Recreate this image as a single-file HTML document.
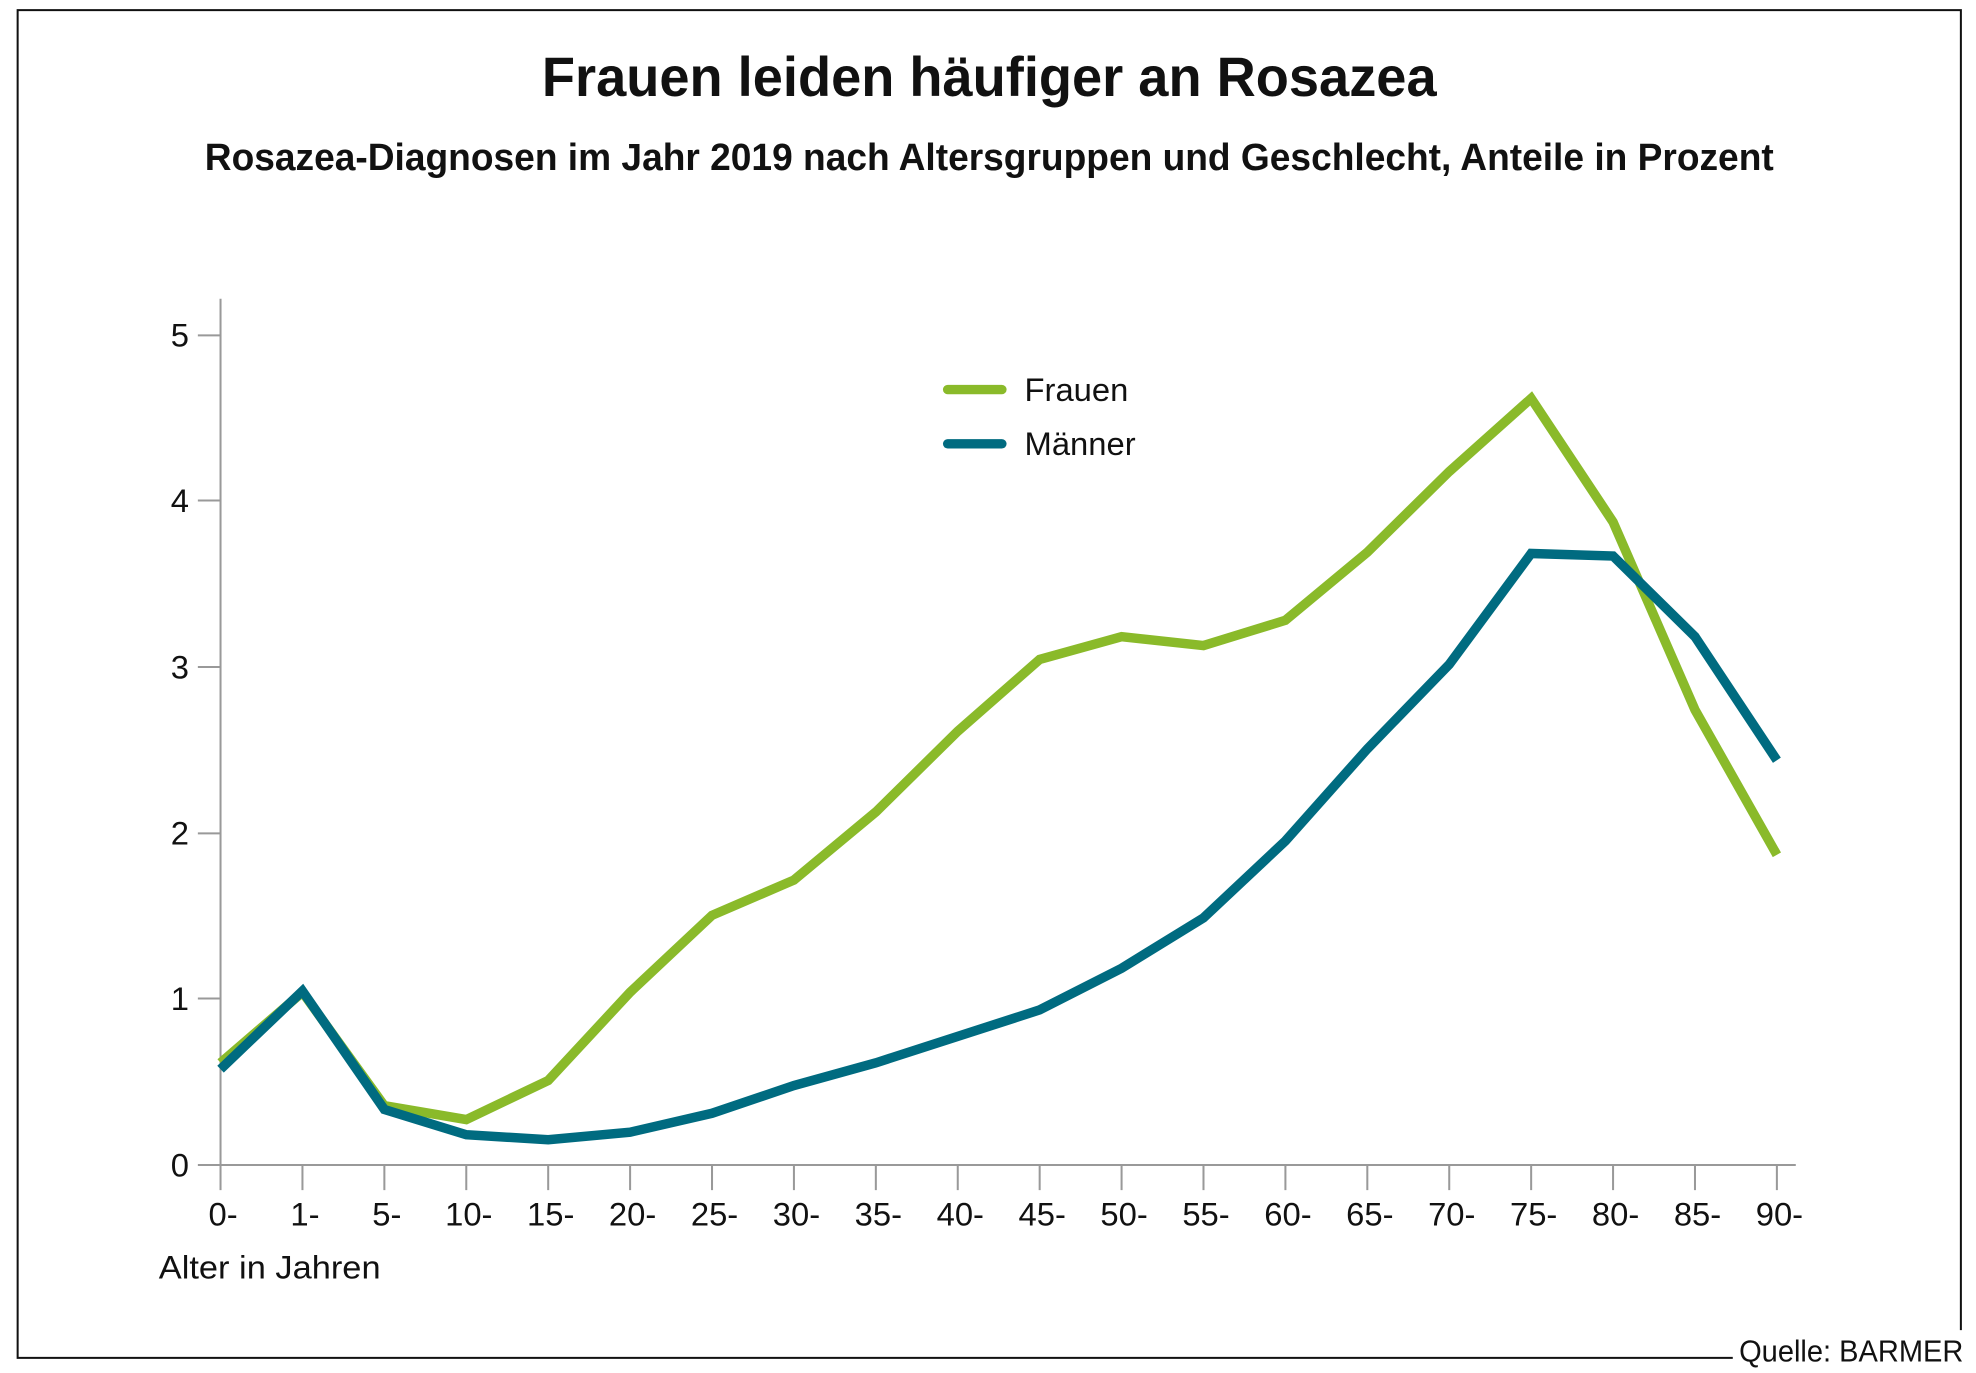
<!DOCTYPE html>
<html><head><meta charset="utf-8"><style>html,body{margin:0;padding:0;background:#fff}svg{display:block}</style></head>
<body>
<svg width="1976" height="1373" viewBox="0 0 1568 1089" preserveAspectRatio="none" xmlns="http://www.w3.org/2000/svg" font-family="'Liberation Sans', sans-serif">
<rect width="1568" height="1089" fill="#fff"/>
<path d="M1375 1077 H14 V8 H1556 V1055" fill="none" stroke="#111" stroke-width="1.6"/>
<text x="1558" y="1080" text-anchor="end" font-size="24" fill="#111" textLength="178" lengthAdjust="spacingAndGlyphs">Quelle: BARMER</text>
<text x="785" y="76" text-anchor="middle" font-size="44" font-weight="bold" fill="#111" textLength="710" lengthAdjust="spacingAndGlyphs">Frauen leiden häufiger an Rosazea</text>
<text x="785" y="135" text-anchor="middle" font-size="30" font-weight="bold" fill="#111" textLength="1245" lengthAdjust="spacingAndGlyphs">Rosazea-Diagnosen im Jahr 2019 nach Altersgruppen und Geschlecht, Anteile in Prozent</text>
<g stroke="#999" stroke-width="1.6">
<line x1="175" y1="237" x2="175" y2="924"/>
<line x1="157" y1="924" x2="1425" y2="924"/>
<line x1="157" y1="792" x2="175" y2="792"/><line x1="157" y1="661" x2="175" y2="661"/><line x1="157" y1="529" x2="175" y2="529"/><line x1="157" y1="397" x2="175" y2="397"/><line x1="157" y1="266" x2="175" y2="266"/>
<path d="M175 924v20M240 924v20M305 924v20M370 924v20M435 924v20M500 924v20M565 924v20M630 924v20M695 924v20M760 924v20M825 924v20M890 924v20M955 924v20M1020 924v20M1085 924v20M1150 924v20M1215 924v20M1280 924v20M1345 924v20M1410 924v20"/>
</g>
<g font-size="26" fill="#111" text-anchor="end">
<text x="150" y="933">0</text><text x="150" y="801">1</text><text x="150" y="670">2</text><text x="150" y="538">3</text><text x="150" y="406">4</text><text x="150" y="275">5</text>
</g>
<g font-size="26" fill="#111" text-anchor="middle">
<text x="177" y="972">0-</text><text x="242" y="972">1-</text><text x="307" y="972">5-</text><text x="372" y="972">10-</text><text x="437" y="972">15-</text><text x="502" y="972">20-</text><text x="567" y="972">25-</text><text x="632" y="972">30-</text><text x="697" y="972">35-</text><text x="762" y="972">40-</text><text x="827" y="972">45-</text><text x="892" y="972">50-</text><text x="957" y="972">55-</text><text x="1022" y="972">60-</text><text x="1087" y="972">65-</text><text x="1152" y="972">70-</text><text x="1217" y="972">75-</text><text x="1282" y="972">80-</text><text x="1347" y="972">85-</text><text x="1412" y="972">90-</text>
</g>
<text x="126" y="1014" font-size="26" fill="#111" textLength="176" lengthAdjust="spacingAndGlyphs">Alter in Jahren</text>
<line x1="752" y1="309" x2="795" y2="309" stroke="#8aba2a" stroke-width="7.5" stroke-linecap="round"/>
<line x1="752" y1="352" x2="795" y2="352" stroke="#006b80" stroke-width="7.5" stroke-linecap="round"/>
<text x="813" y="318" font-size="26" fill="#111">Frauen</text>
<text x="813" y="361" font-size="26" fill="#111">Männer</text>
<polyline fill="none" stroke="#8aba2a" stroke-width="7.5" stroke-linejoin="miter" points="175,843 240,787 305,877 370,888 435,857 500,787 565,726 630,698 695,644 760,580 825,523 890,505 955,512 1020,492 1085,438 1150,374 1215,316 1280,414 1345,563 1410,678"/>
<polyline fill="none" stroke="#006b80" stroke-width="7.5" stroke-linejoin="miter" points="175,848 240,786 305,880 370,900 435,904 500,898 565,883 630,861 695,843 760,822 825,801 890,768 955,728 1020,667 1085,594 1150,527 1215,439 1280,441 1345,505 1410,603"/>
</svg>
</body></html>
